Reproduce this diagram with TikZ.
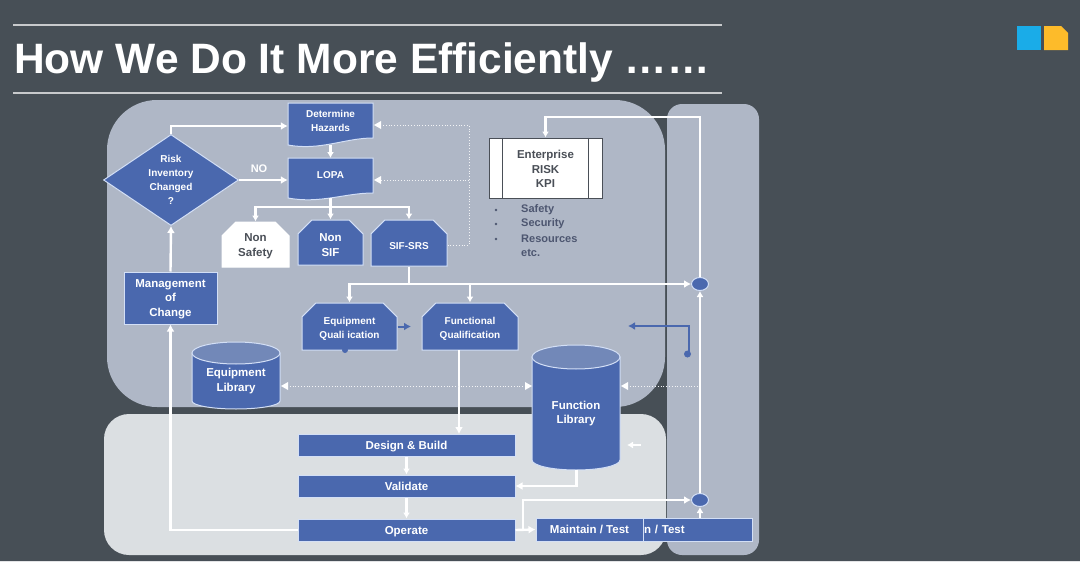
\documentclass[tikz,border=0pt]{standalone}
\usepackage{fontspec}
\setmainfont{Liberation Sans}
\usetikzlibrary{shapes.geometric,shapes.misc,calc,arrows.meta}
\definecolor{slatebg}{HTML}{474F56}
\definecolor{panelblue}{HTML}{AFB7C6}
\definecolor{panelgrey}{HTML}{DBDFE2}
\definecolor{boxblue}{HTML}{4A68AE}
\definecolor{boxedge}{HTML}{D3DFF6}
\definecolor{inkgrey}{HTML}{4A4F57}
\definecolor{listink}{HTML}{4D5670}
\definecolor{logoblue}{HTML}{1AACE8}
\definecolor{logogold}{HTML}{FDBB2A}
\tikzset{
  boxtext/.style={font=\bfseries\fontsize{11.5}{14.5}\selectfont,text=white,align=center,inner sep=0pt},
  smalltext/.style={font=\bfseries\fontsize{10}{14}\selectfont,text=white,align=center,inner sep=0pt},
  plainbox/.style={draw=boxedge,line width=1pt,fill=boxblue,inner sep=0pt},
  cutbox/.style={plainbox,chamfered rectangle,chamfered rectangle corners={north west,north east},chamfered rectangle xsep=7pt,chamfered rectangle ysep=7pt,font=\fontsize{20}{20}\selectfont},
  wide/.style={plainbox,boxtext,minimum width=217pt,minimum height=22pt,text height=8.5pt,text depth=0.5pt},
  storeend/.style={draw=boxedge,line width=1pt,fill=boxblue!60!panelblue},
  joint/.style={draw=boxedge,line width=1pt,fill=boxblue,ellipse,minimum width=17pt,minimum height=13pt,inner sep=0pt},
  wire/.style={draw=white,line width=2.4pt,-{Latex[length=7pt,width=8pt]}},
  thin/.style={draw=white,line width=2.2pt,-{Latex[length=6pt,width=7pt]}},
  dots/.style={draw=white!85!panelblue,line width=.8pt,dotted},
  listitem/.style={font=\bfseries\fontsize{11}{13}\selectfont,text=listink,anchor=west,inner sep=0pt},
}
\begin{document}
\begin{tikzpicture}[x=1pt,y=-1pt]
\useasboundingbox (0,0) rectangle (1080,562);
\fill[slatebg] (0,0) rectangle (1080,562);
\fill[white!85!slatebg] (0,560.5) rectangle (1080,562);

% header
\draw[white!70!slatebg,line width=1.3pt] (13,25) -- (722,25);
\draw[white!70!slatebg,line width=1.3pt] (13,93) -- (722,93);
\node[anchor=base west,inner sep=0pt,text=white,font=\bfseries\fontsize{42.5}{46}\selectfont] (title) at (14,73.5) {How We Do It More Efficiently ……};

% logo
\fill[logoblue] (1017,26) rectangle (1041,50);
\fill[logogold] (1044,26) -- (1061,26) -- (1068,33) -- (1068,50) -- (1044,50) -- cycle;

% panels
\fill[panelblue,rounded corners=15pt] (667,104) rectangle (759,555);
\fill[panelblue,rounded corners=50pt] (107,100) rectangle (665,407);
\fill[panelgrey,rounded corners=25pt] (104,414) rectangle (666,555);

% document shapes
\draw[plainbox] (288,103) -- (373,103) -- (373,138) .. controls (345,138) and (320,151) .. (288,145) -- cycle;
\draw[plainbox] (288,158) -- (373,158) -- (373,193) .. controls (345,193) and (320,204) .. (288,198) -- cycle;
\node[smalltext,minimum width=85pt,minimum height=40pt] (hazards) at (330.5,121) {Determine\\Hazards};
\node[smalltext,minimum width=85pt,minimum height=40pt] (lopa) at (330.5,175) {LOPA};

\node[plainbox,diamond,aspect=1.48,minimum width=135pt,minimum height=91pt] (risk) at (171,180) {};
\node[smalltext] (risktext) at (171,179.5) {Risk\\Inventory\\Changed\\?};
\node[text=white,font=\bfseries\fontsize{11}{13}\selectfont,inner sep=0pt] (no) at (259,169) {NO};

\node[cutbox,draw=white,fill=white,minimum width=67pt,minimum height=45pt] (nonsafety) at (255.5,244.5) {\phantom{MM}};
\node[boxtext,text=inkgrey,font=\bfseries\fontsize{11.5}{15}\selectfont] (nonsafetytext) at (255.5,246.5) {Non\\Safety};
\node[cutbox,minimum width=65pt,minimum height=45pt] (nonsif) at (330.5,242.5) {\phantom{MM}};
\node[boxtext,font=\bfseries\fontsize{11.5}{15}\selectfont] (nonsiftext) at (330.5,245) {Non\\SIF};
\node[cutbox,minimum width=76pt,minimum height=46pt] (sifsrs) at (409,243) {\phantom{MM}};
\node[smalltext] (sifsrstext) at (409,246) {SIF-SRS};
\node[plainbox,boxtext,minimum width=93pt,minimum height=52pt] (change) at (170.5,298) {};
\node[boxtext] (changetext) at (170.5,299) {Management\\of\\Change};

% enterprise box
\node[rectangle,draw=inkgrey,line width=1pt,fill=white,minimum width=113pt,minimum height=60pt,inner sep=0pt] (kpibox) at (545.5,168) {};
\draw[inkgrey,line width=1pt] ($(kpibox.north west)+(14,0)$) -- ($(kpibox.south west)+(14,0)$);
\draw[inkgrey,line width=1pt] ($(kpibox.north east)+(-14,0)$) -- ($(kpibox.south east)+(-14,0)$);
\node[boxtext,text=inkgrey] (kpi) at (545.5,169) {Enterprise\\RISK\\KPI};
\foreach \ypos/\word in {210/Safety,224/Security,239/Resources,253/etc.} {
  \node[listitem] at (521,\ypos) {\word};
}
\foreach \ypos in {210,224,239} {
  \fill[listink] (496,\ypos) circle (1.4pt);
}

\node[cutbox,minimum width=95pt,minimum height=47pt] (equipq) at (349.5,326.5) {\phantom{MM}};
\node[smalltext] (equipqtext) at (349.5,328.5) {Equipment\\Quali ication};
\node[cutbox,minimum width=96pt,minimum height=47pt] (funcq) at (470,326.5) {\phantom{MM}};
\node[smalltext] (funcqtext) at (470,328.5) {Functional\\Qualification};

% libraries
\draw[plainbox] (192,353) -- (192,401) arc[start angle=180,end angle=0,x radius=44,y radius=8] -- (280,353) -- cycle;
\draw[storeend] (236,353) ellipse (44pt and 11pt);
\draw[plainbox] (532,357) -- (532,460) arc[start angle=180,end angle=0,x radius=44,y radius=10] -- (620,357) -- cycle;
\draw[storeend] (576,357) ellipse (44pt and 12pt);
\node[boxtext,minimum width=88pt,minimum height=67pt] (equiplib) at (236,381) {Equipment\\Library};
\node[boxtext,minimum width=88pt,minimum height=100pt] (funclib) at (576,413.5) {Function\\Library};
\coordinate (funcbottom) at (576.5,470);

\node[wide] (design) at (406.5,445) {Design \& Build};
\node[wide] (validate) at (406.5,486) {Validate};
\node[wide] (operate) at (406.5,530) {Operate};

\node[plainbox,boxtext,minimum width=109pt,minimum height=23pt,text width=109pt,align=left,text height=8.5pt,text depth=0.5pt] (testb) at (697.5,529.5) {\hspace{1pt}n / Test};
\node[plainbox,boxtext,minimum width=107pt,minimum height=23pt,text height=8.5pt,text depth=0.5pt] (testa) at (589.5,529.5) {Maintain / Test};

\node[joint] (jointa) at (700,284) {};
\node[joint] (jointb) at (700,500) {};

% flow
\coordinate (hazin) at (171,126);
\draw[wire] (risk.north) -- (hazin) -- (hazards.west |- hazin);
\draw[wire] (risk.east) -- (lopa.west |- risk.east);
\coordinate (hazout) at (330.5,145);
\coordinate (lopain) at (330.5,158);
\draw[thin] (hazout) -- (lopain);
\coordinate (lopaout) at (330.5,198);
\coordinate (lopabus) at (330.5,207);
\draw[wire,-] (lopaout) -- (lopabus);
\draw[thin] (lopabus) -| (nonsafety.north);
\draw[thin] (lopabus) -- (nonsif.north);
\draw[thin] (lopabus) -| (sifsrs.north);
\draw[wire] (change.north) -- (risk.south);

\coordinate (sifbus) at (409,284);
\draw[wire,-] (sifsrs.south) -- (sifbus);
\draw[wire] (sifbus) -- (jointa.west |- sifbus);
\draw[thin] (sifbus) -| (equipq.north);
\draw[thin] (sifbus) -| (funcq.north);
\coordinate (kpitop) at (545.5,117);
\draw[thin] (jointa.north) |- (kpitop) -- (kpibox.north);
\draw[thin] (jointb.north) -- (jointa.south);

\coordinate (funcqout) at (459,350);
\coordinate (designin) at (459,434);
\draw[wire] (funcqout) -- (designin);
\draw[thin] (design.south) -- (validate.north);
\draw[thin] (validate.south) -- (operate.north);
\draw[wire] (operate.west) -| (change.south);
\draw[wire] (funcbottom) |- (validate.east);
\draw[wire] (operate.east) -- (testa.west);
\coordinate (turnlow) at (523,530);
\coordinate (turn) at (523,500);
\draw[wire] (turnlow) -- (turn) -- (jointb.west);
\draw[thin] (testb.north -| jointb) -- (jointb.south);

% dotted links
\coordinate (dotcorner) at (469,245);
\coordinate (dottop) at (469,125);
\draw[dots] (sifsrs.east |- dotcorner) -- (dotcorner) -- (dottop) -- (379,125);
\draw[dots] (469,180) -- (379,180);
\fill[white] (374,125) -- (381,121) -- (381,129) -- cycle;
\fill[white] (374,180) -- (381,176) -- (381,184) -- cycle;
\draw[dots] (287,386) -- (526,386);
\fill[white] (281,386) -- (288,382) -- (288,390) -- cycle;
\fill[white] (532,386) -- (525,382) -- (525,390) -- cycle;
\draw[dots] (627,386) -- (698,386);
\fill[white] (621,386) -- (628,382) -- (628,390) -- cycle;

% stray marks
\coordinate (stubend) at (641,445);
\coordinate (stubtip) at (627,445);
\draw[thin] (stubend) -- (stubtip);
\coordinate (bluedot) at (687.5,354);
\coordinate (bluecorner) at (689,326);
\coordinate (bluetip) at (628,326);
\fill[boxblue] (bluedot) circle (3.5pt);
\draw[boxblue,line width=2pt,-{Latex[length=7pt,width=8pt]}] (689,354) -- (bluecorner) -- (bluetip);
\coordinate (eqtip) at (411,326.5);
\draw[boxblue,line width=2pt,-{Latex[length=7pt,width=8pt]}] (equipq.east) -- (eqtip);
\fill[boxblue] (345,350) circle (3pt);
\end{tikzpicture}
\end{document}
